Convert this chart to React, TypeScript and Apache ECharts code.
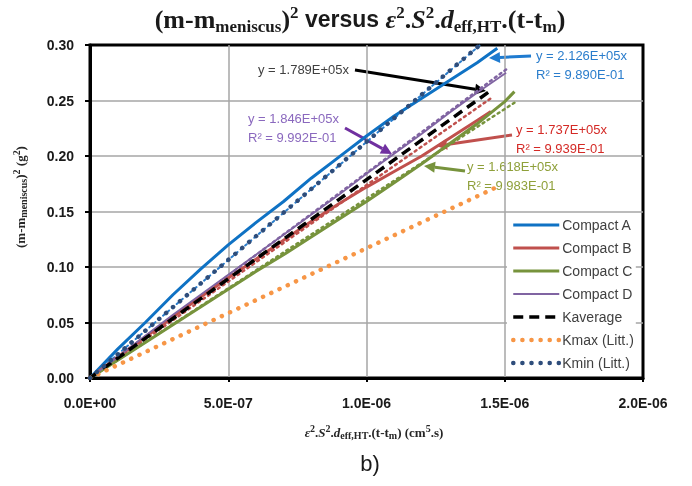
import React, { useEffect, useRef } from "react";
import * as echarts from "echarts";

// ---- data ----
const seriesNames = ["Compact A", "Compact B", "Compact C", "Compact D", "Kaverage", "Kmax (Litt.)", "Kmin (Litt.)"];

const compactAX = [0, 1.0e-7, 2.0e-7, 3.0e-7, 4.0e-7, 5.0e-7, 6.0e-7, 7.0e-7, 8.0e-7, 9.0e-7, 1.0e-6, 1.1e-6, 1.2e-6, 1.3e-6, 1.4e-6, 1.473e-6];
const compactAY = [0, 0.026, 0.05, 0.075, 0.098, 0.12, 0.14, 0.159, 0.18, 0.199, 0.218, 0.236, 0.252, 0.268, 0.284, 0.297];

const compactBX = [0, 1.0e-7, 2.0e-7, 3.0e-7, 4.0e-7, 5.0e-7, 6.0e-7, 7.0e-7, 8.0e-7, 9.0e-7, 1.0e-6, 1.1e-6, 1.2e-6, 1.3e-6, 1.4e-6, 1.45e-6];
const compactBY = [0, 0.019, 0.037, 0.055, 0.073, 0.09, 0.107, 0.124, 0.141, 0.157, 0.172, 0.186, 0.2, 0.216, 0.232, 0.24];

const compactCX = [0, 1.0e-7, 2.0e-7, 3.0e-7, 4.0e-7, 5.0e-7, 6.0e-7, 7.0e-7, 8.0e-7, 9.0e-7, 1.0e-6, 1.1e-6, 1.2e-6, 1.3e-6, 1.4e-6, 1.5e-6, 1.535e-6];
const compactCY = [0, 0.016, 0.032, 0.048, 0.064, 0.08, 0.096, 0.111, 0.127, 0.143, 0.159, 0.176, 0.193, 0.211, 0.229, 0.249, 0.258];

const compactDX = [0, 1.0e-7, 2.0e-7, 3.0e-7, 4.0e-7, 5.0e-7, 6.0e-7, 7.0e-7, 8.0e-7, 9.0e-7, 1.0e-6, 1.1e-6, 1.2e-6, 1.3e-6, 1.4e-6, 1.505e-6];
const compactDY = [0, 0.019, 0.038, 0.057, 0.075, 0.093, 0.111, 0.129, 0.147, 0.165, 0.184, 0.202, 0.22, 0.239, 0.257, 0.275];

const kavgX = [0, 1.455e-6];
const kavgY = [0, 0.26];
const kmaxX = [0, 1.48e-6];
const kmaxY = [0, 0.173];
const kminX = [0, 1.41e-6];
const kminY = [0, 0.3];

// linear trend lines of the compacts (Excel fits)
const trendAX = [0, 1.411e-6];
const trendAY = [0, 0.3];
const trendBX = [0, 1.45e-6];
const trendBY = [0, 0.252];
const trendCX = [0, 1.535e-6];
const trendCY = [0, 0.248];
const trendDX = [0, 1.505e-6];
const trendDY = [0, 0.278];

const xTicks = { min: 0, max: 2e-6, interval: 5e-7 };
const yTicks = { min: 0, max: 0.3, interval: 0.05 };

const fitLabels = [
  { lines: ["y = 2.126E+05x", "R² = 9.890E-01"], color: "#2A7DCC" },
  { lines: ["y = 1.789E+05x"], color: "#404040" },
  { lines: ["y = 1.846E+05x", "R² = 9.992E-01"], color: "#8A68BE" },
  { lines: ["y = 1.737E+05x", "R² = 9.939E-01"], color: "#D42A26" },
  { lines: ["y = 1.618E+05x", "R² = 9.983E-01"], color: "#8FA03A" },
];

const zip = (xs: number[], ys: number[]) => xs.map((x, i) => [x, ys[i]]);

const fmtX = (v: number) => {
  if (Math.abs(v) < 1e-15) return "0.0E+00";
  const [m, e] = v.toExponential(1).split("e");
  const n = parseInt(e, 10);
  return m + "E" + (n < 0 ? "-" : "+") + String(Math.abs(n)).padStart(2, "0");
};

function arrow(x1: number, y1: number, x2: number, y2: number, color: string) {
  const dx = x2 - x1, dy = y2 - y1;
  const len = Math.sqrt(dx * dx + dy * dy);
  const ux = dx / len, uy = dy / len;
  const hl = 11, hw = 5.5;
  const bx = x2 - ux * hl, by = y2 - uy * hl;
  const nx = -uy, ny = ux;
  return {
    type: "group",
    children: [
      { type: "line", shape: { x1, y1, x2: bx, y2: by }, style: { stroke: color, lineWidth: 3 } },
      {
        type: "polygon",
        shape: { points: [[x2, y2], [bx + nx * hw, by + ny * hw], [bx - nx * hw, by - ny * hw]] },
        style: { fill: color },
      },
    ],
  };
}

const serif = "'Liberation Serif', 'Times New Roman', serif";
const sans = "'Liberation Sans', Arial, sans-serif";

export default function App() {
  const ref = useRef<HTMLDivElement>(null);
  useEffect(() => {
    if (!ref.current) return;
    const chart = echarts.init(ref.current, undefined, { renderer: "svg" });

    const line = (name: string, data: number[][], color: string, width: number, type: any, z = 2, cap: any = "butt") => ({
      name,
      type: "line",
      data,
      symbol: "none",
      showSymbol: false,
      z,
      lineStyle: { color, width, type, cap },
      itemStyle: { color, opacity: 0 },
      emphasis: { disabled: true },
    });

    const annText = (x: number, y: number, lines: string[], color: string) => ({
      type: "text",
      x,
      y,
      style: { text: lines.join("\n"), fill: color, font: `13px ${sans}`, lineHeight: 19 },
    });

    const option: any = {
      animation: false,
      grid: { left: 90, right: 49, top: 45, bottom: 108, show: true, borderColor: "#000", borderWidth: 3 },
      xAxis: {
        type: "value",
        ...xTicks,
        axisLine: { show: true, lineStyle: { color: "#000", width: 3 } },
        axisTick: { show: true, length: 4, lineStyle: { color: "#000", width: 2 } },
        splitLine: { show: true, showMinLine: false, showMaxLine: false, lineStyle: { color: "#A6A6A6", width: 1.5 } },
        axisLabel: { formatter: fmtX, margin: 18, color: "#1a1a1a", fontWeight: "bold", fontSize: 14, fontFamily: sans },
      },
      yAxis: {
        type: "value",
        ...yTicks,
        axisLine: { show: true, lineStyle: { color: "#000", width: 3 } },
        axisTick: { show: true, length: 5, lineStyle: { color: "#000", width: 2 } },
        splitLine: { show: true, showMinLine: false, showMaxLine: false, lineStyle: { color: "#A6A6A6", width: 1.5 } },
        axisLabel: { formatter: (v: number) => v.toFixed(2), margin: 16, color: "#1a1a1a", fontWeight: "bold", fontSize: 14, fontFamily: sans },
      },
      legend: {
        data: seriesNames,
        orient: "vertical",
        left: 507,
        top: 215,
        itemWidth: 46,
        itemHeight: 14,
        itemGap: 9,
        padding: [3, 2, 3, 4],
        backgroundColor: "#fff",
        lineStyle: { width: "inherit" },
        textStyle: { fontSize: 14, fontFamily: sans, color: "#404040", padding: [0, 0, 0, -2] },
      },
      series: [
        line("trendA", zip(trendAX, trendAY), "#2A7DCC", 2, [2, 4], 1, "round"),
        line("trendB", zip(trendBX, trendBY), "#C0504D", 2.5, [2, 4], 1, "round"),
        line("trendC", zip(trendCX, trendCY), "#77933C", 2.5, [2, 4], 1, "round"),
        line("trendD", zip(trendDX, trendDY), "#8064A2", 2.5, [2, 4], 1, "round"),
        line("Compact A", zip(compactAX, compactAY), "#0F72C4", 3, "solid", 2),
        line("Compact B", zip(compactBX, compactBY), "#C0504D", 3, "solid", 2),
        line("Compact C", zip(compactCX, compactCY), "#77933C", 3, "solid", 2),
        line("Compact D", zip(compactDX, compactDY), "#8064A2", 1.8, "solid", 2),
        line("Kaverage", zip(kavgX, kavgY), "#000000", 3.5, [10, 6], 3),
        line("Kmax (Litt.)", zip(kmaxX, kmaxY), "#F79646", 4.5, [0.1, 9], 3, "round"),
        line("Kmin (Litt.)", zip(kminX, kminY), "#2E4D7B", 4.5, [0.1, 9], 3, "round"),
      ],
      graphic: [
        {
          type: "text",
          x: 360,
          y: 19,
          style: {
            text:
              "{a|(m-m}{sub|meniscus}{a|)}{sup|2}{b| versus }{e|ε}{sup|2}{a|.}{e|S}{sup|2}{a|.}{e|d}{sub|eff,HT}{a|.(t-t}{sub|m}{a|)}",
            align: "center",
            verticalAlign: "middle",
            rich: {
              a: { fontFamily: serif, fontWeight: "bold", fontSize: 26, lineHeight: 31, fill: "#1a1a1a" },
              e: { fontFamily: serif, fontWeight: "bold", fontStyle: "italic", fontSize: 26, lineHeight: 31, fill: "#1a1a1a" },
              b: { fontFamily: sans, fontWeight: "bold", fontSize: 23, lineHeight: 31, fill: "#1a1a1a" },
              sub: { fontFamily: serif, fontWeight: "bold", fontSize: 17, lineHeight: 16, verticalAlign: "bottom", fill: "#1a1a1a" },
              sup: { fontFamily: serif, fontWeight: "bold", fontSize: 17, lineHeight: 22, verticalAlign: "top", fill: "#1a1a1a" },
            },
          },
        },
        {
          type: "text",
          x: 20,
          y: 197,
          rotation: Math.PI / 2,
          style: {
            text: "{a|(m-m}{sub|meniscus}{a|)}{sup|2}{a| (g}{sup|2}{a|)}",
            align: "center",
            verticalAlign: "middle",
            rich: {
              a: { fontFamily: serif, fontWeight: "bold", fontSize: 13, lineHeight: 17, fill: "#262626" },
              sub: { fontFamily: serif, fontWeight: "bold", fontSize: 10, lineHeight: 10, verticalAlign: "bottom", fill: "#262626" },
              sup: { fontFamily: serif, fontWeight: "bold", fontSize: 10, lineHeight: 12, verticalAlign: "top", fill: "#262626" },
            },
          },
        },
        {
          type: "text",
          x: 374,
          y: 432,
          style: {
            text: "{e|ε}{sup|2}{a|.}{e|S}{sup|2}{a|.}{e|d}{sub|eff,HT}{a|.(t-t}{sub|m}{a|) (cm}{sup|5}{a|.s)}",
            align: "center",
            verticalAlign: "middle",
            rich: {
              a: { fontFamily: serif, fontWeight: "bold", fontSize: 13, lineHeight: 17, fill: "#262626" },
              e: { fontFamily: serif, fontWeight: "bold", fontStyle: "italic", fontSize: 13, lineHeight: 17, fill: "#262626" },
              sub: { fontFamily: serif, fontWeight: "bold", fontSize: 10, lineHeight: 10, verticalAlign: "bottom", fill: "#262626" },
              sup: { fontFamily: serif, fontWeight: "bold", fontSize: 10, lineHeight: 12, verticalAlign: "top", fill: "#262626" },
            },
          },
        },
        {
          type: "text",
          x: 370,
          y: 463,
          style: { text: "b)", align: "center", verticalAlign: "middle", font: `22px ${sans}`, fill: "#1a1a1a" },
        },
        annText(536, 46, fitLabels[0].lines, fitLabels[0].color),
        annText(258, 60, fitLabels[1].lines, fitLabels[1].color),
        annText(248, 109, fitLabels[2].lines, fitLabels[2].color),
        annText(516, 120, fitLabels[3].lines, fitLabels[3].color),
        annText(467, 157, fitLabels[4].lines, fitLabels[4].color),
        arrow(531, 56, 489, 58, "#1F7BD0"),
        arrow(355, 70, 486, 91, "#000000"),
        arrow(345, 128, 392, 154, "#7030A0"),
        arrow(512, 135, 436, 146, "#C0504D"),
        arrow(465, 171, 424, 166, "#77933C"),
      ],
    };
    chart.setOption(option);
    return () => chart.dispose();
  }, []);
  return <div ref={ref} style={{ position: "fixed", left: 0, top: 0, width: 692, height: 486 }} />;
}
